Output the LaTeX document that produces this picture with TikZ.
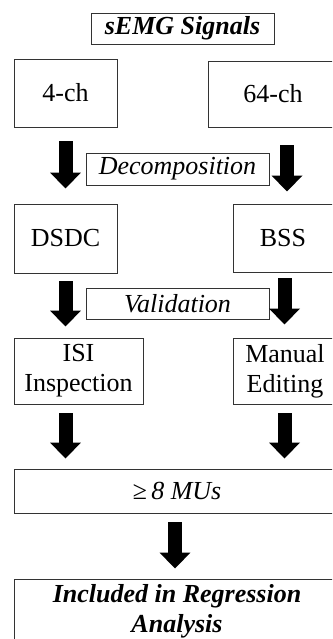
\documentclass[tikz,border=0pt]{standalone}
\usepackage{fontspec}
\setmainfont{Liberation Serif}
\usetikzlibrary{arrows.meta,calc}

\tikzset{
  box/.style={draw=black!80, line width=0.9pt, fill=white, inner sep=0pt,
    font=\fontsize{26}{30}\selectfont, align=center},
  fat/.style={line width=14pt, -{Triangle[width=30pt,length=16pt]}},
}

\begin{document}
\begin{tikzpicture}[x=1pt,y=-1pt]
  \useasboundingbox (0,0) rectangle (332,639);
  \clip (0,0) rectangle (332,639);

  % top label
  \node[box, minimum width=183pt, minimum height=31pt] (sig) at (182.5,28.5)
    {\textbf{\textit{sEMG Signals}}};

  % channel sources
  \node[box, minimum width=103pt, minimum height=68pt] (c4) at (65.5,93) {4-ch};
  \node[box, minimum width=130pt, minimum height=66pt] (c64) at (273,94) {64-ch};

  % decomposition step
  \node[box, minimum width=183pt, minimum height=32pt] (dec) at (177.5,169)
    {\textit{Decomposition}};
  \node[box, minimum width=103pt, minimum height=69pt] (dsdc) at (65.5,238.5) {DSDC};
  \node[box, minimum width=100pt, minimum height=68pt] (bss) at (283,238) {BSS};

  % validation step
  \node[box, minimum width=183pt, minimum height=31pt] (val) at (177.5,303.5)
    {\textit{Validation}};
  \node[box, minimum width=129pt, minimum height=66pt] (isi) at (78.5,371)
    {ISI\\Inspection};
  \node[box, minimum width=104pt, minimum height=66pt] (man) at (285,371)
    {Manual\\Editing};

  % pooled result
  \node[box, minimum width=326pt, minimum height=44pt] (mus) at (177,491)
    {\textit{≥\,8 MUs}};
  \node[box, minimum width=326pt, minimum height=64pt] (inc) at (177,611)
    {\textbf{\textit{Included in Regression}}\\\textbf{\textit{Analysis}}};

  % block arrows
  \draw[fat, shorten <=14pt, shorten >=15pt] (c4.south) -- (dsdc.north);
  \draw[fat, shorten <=18pt, shorten >=12pt]
    ([xshift=14pt]c64.south) -- ([xshift=4pt]bss.north);
  \draw[fat, shorten <=8pt, shorten >=11pt] (dsdc.south) -- (dsdc.south |- isi.north);
  \draw[fat, shorten <=6pt, shorten >=13pt]
    ([xshift=1.5pt]bss.south) -- ([xshift=-0.5pt]man.north);
  \draw[fat, shorten <=9pt, shorten >=10pt] (isi.south -| c4.south) -- (c4.south |- mus.north);
  \draw[fat, shorten <=9pt, shorten >=10pt]
    ([xshift=-0.5pt]man.south) -- ([xshift=-0.5pt]man.south |- mus.north);
  \draw[fat, shorten <=9pt, shorten >=10pt]
    ([xshift=-2pt]mus.south) -- ([xshift=-2pt]inc.north);
\end{tikzpicture}
\end{document}
